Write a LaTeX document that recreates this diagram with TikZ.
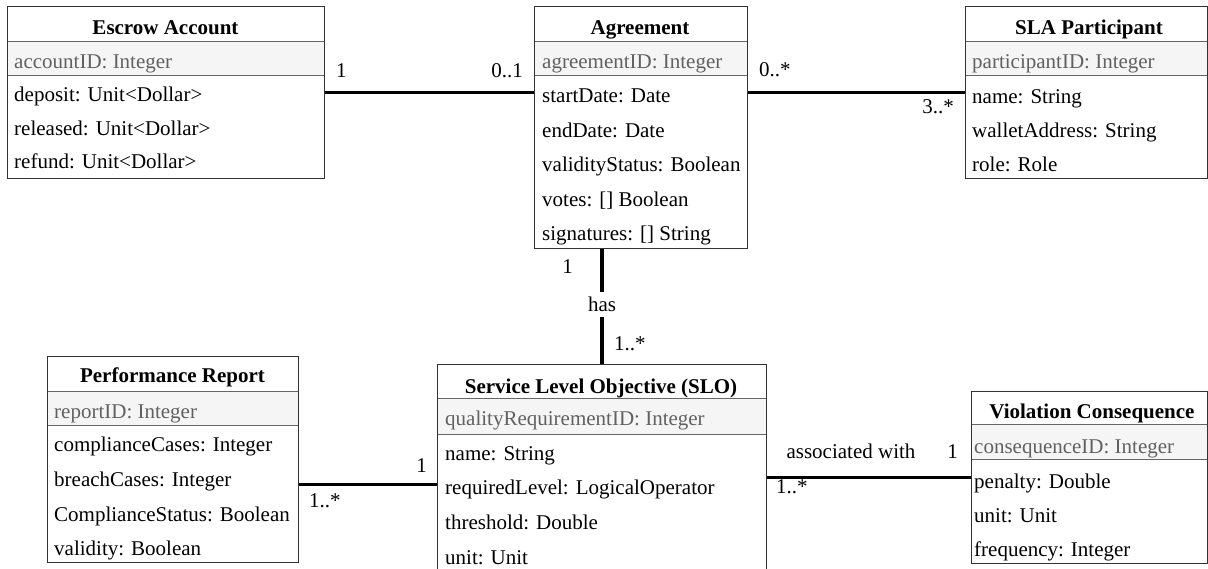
\documentclass[tikz,border=0pt]{standalone}
\usepackage{fontspec}
\setmainfont{LiberationSerif}[Extension=.ttf, UprightFont=*-Regular, BoldFont=*-Bold, ItalicFont=*-Italic, BoldItalicFont=*-BoldItalic]
\usetikzlibrary{calc,positioning}

\tikzset{
  cls/.style={draw=black!80, line width=1pt, inner sep=0pt, anchor=north west},
  idrow/.style={fill=black!4, draw=black!60, line width=1pt},
  ttl/.style={font=\fontsize{21}{25}\selectfont\bfseries, inner sep=0pt, anchor=base},
  idtxt/.style={font=\fontsize{21}{25}\selectfont, text=black!62, inner sep=0pt, anchor=base west},
  att/.style={font=\fontsize{21}{25}\selectfont, inner sep=0pt, anchor=base west},
  assoc/.style={line width=3.2pt},
  mult/.style={font=\fontsize{21}{25}\selectfont, inner sep=0pt}
}

\begin{document}
\begin{tikzpicture}[x=1pt,y=-1pt]
  \clip (0,0) rectangle (1208,569);

  % Escrow Account
  \draw[idrow] (7,42) rectangle (324,76);
  \node[cls, minimum width=317pt, minimum height=172pt] (esc) at (7,6) {};
  \node[ttl] (esc-t) at (165.5,35) {Escrow Account};
  \node[idtxt] (esc-id) at (14,69) {accountID: Integer};
  \foreach \s [count=\i] in {{deposit: Unit<Dollar>},{released: Unit<Dollar>},{refund: Unit<Dollar>}}
  	\node[att] (esc-\i) at (14,{68.5+33.4*\i}) {\s};

  % Agreement
  \draw[idrow] (534,42) rectangle (747,76);
  \node[cls, minimum width=213pt, minimum height=242pt] (agr) at (534,6) {};
  \node[ttl] (agr-t) at (640,35) {Agreement};
  \node[idtxt] (agr-id) at (542,68.5) {agreementID: Integer};
  \foreach \s [count=\i] in {{startDate: Date},{endDate: Date},{validityStatus: Boolean},{votes: [] Boolean},{signatures: [] String}}
  	\node[att] (agr-\i) at (542,{68.6+34.4*\i}) {\s};

  % SLA Participant
  \draw[idrow] (965,42) rectangle (1207,76);
  \node[cls, minimum width=242pt, minimum height=172pt] (sla) at (965,6) {};
  \node[ttl] (sla-t) at (1089,35) {SLA Participant};
  \node[idtxt] (sla-id) at (972,69) {participantID: Integer};
  \foreach \s [count=\i] in {{name: String},{walletAddress: String},{role: Role}}
  	\node[att] (sla-\i) at (972,{69.3+34*\i}) {\s};

  % Performance Report
  \draw[idrow] (47,391) rectangle (298,425);
  \node[cls, minimum width=251pt, minimum height=206pt] (rep) at (47,356) {};
  \node[ttl] (rep-t) at (172.5,383) {Performance Report};
  \node[idtxt] (rep-id) at (54,418.3) {reportID: Integer};
  \foreach \s [count=\i] in {{complianceCases: Integer},{breachCases: Integer},{ComplianceStatus: Boolean},{validity: Boolean}}
  	\node[att] (rep-\i) at (54,{417+34.7*\i}) {\s};

  % Service Level Objective
  \draw[idrow] (437,398) rectangle (766,434);
  \node[cls, minimum width=329pt, minimum height=240pt] (slo) at (437,364) {};
  \node[ttl] (slo-t) at (601,393) {Service Level Objective (SLO)};
  \node[idtxt] (slo-id) at (445,425) {qualityRequirementID: Integer};
  \foreach \s [count=\i] in {{name: String},{requiredLevel: LogicalOperator},{threshold: Double},{unit: Unit}}
  	\node[att] (slo-\i) at (445,{425.3+34.7*\i}) {\s};

  % Violation Consequence
  \draw[idrow] (971,424) rectangle (1207,459);
  \node[cls, minimum width=236pt, minimum height=172pt] (vio) at (971,391) {};
  \node[ttl] (vio-t) at (1092,418) {Violation Consequence};
  \node[idtxt] (vio-id) at (974,453.3) {consequenceID: Integer};
  \foreach \s [count=\i] in {{penalty: Double},{unit: Unit},{frequency: Integer}}
  	\node[att] (vio-\i) at (974,{454.1+34.2*\i}) {\s};

  % associations
  \draw[assoc] (esc.east) -- (esc.east -| agr.west);
  \node[mult, anchor=base west] (m-esc) at ($(esc.east)+(11,-15)$) {1};
  \node[mult, anchor=base east] (m-agr1) at ($(esc.east -| agr.west)+(-11,-15)$) {0..1};

  \draw[assoc] (agr.east |- sla.west) -- (sla.west);
  \node[mult, anchor=base west] (m-agr2) at ($(agr.east |- sla.west)+(11,-16)$) {0..*};
  \node[mult, anchor=base east] (m-sla) at ($(sla.west)+(-11,21)$) {3..*};

  \draw[assoc] (agr.south -| slo.north) -- node[mult, fill=white, inner sep=5pt, pos=0.48] (has) {has} (slo.north);
  \node[mult, anchor=base east] (m-agr3) at ($(agr.south -| slo.north)+(-29,25)$) {1};
  \node[mult, anchor=base west] (m-slo1) at ($(slo.north)+(12,-13)$) {1..*};

  \draw[assoc] (rep.east |- slo.west) -- (slo.west);
  \node[mult, anchor=base west] (m-rep) at ($(rep.east |- slo.west)+(10,23)$) {1..*};
  \node[mult, anchor=base east] (m-slo2) at ($(slo.west)+(-10,-12)$) {1};

  \draw[assoc] (vio.west -| slo.east) -- (vio.west);
  \node[mult, anchor=base] (assocw) at ($(vio.west -| slo.east)+(84,-19)$) {associated with};
  \node[mult, anchor=base west] (m-slo3) at ($(vio.west -| slo.east)+(9,16)$) {1..*};
  \node[mult, anchor=base east] (m-vio) at ($(vio.west)+(-13,-19)$) {1};
\end{tikzpicture}
\end{document}
